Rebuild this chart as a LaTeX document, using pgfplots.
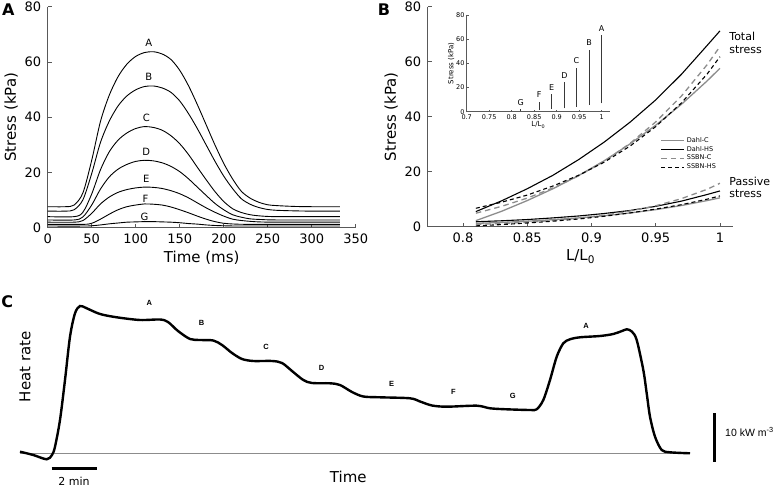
\documentclass[border=0pt]{standalone}
\usepackage{fontspec}
\setmainfont{DejaVu Sans}
\newfontfamily\arialfont{Liberation Sans}
\usepackage{pgfplots}
\pgfplotsset{compat=1.18}
\definecolor{ax}{gray}{0.35}
\definecolor{lg}{gray}{0.55}
\pgfplotsset{
  mystyle/.style={scale only axis, axis lines=left, axis line style={-, draw=ax, line width=0.7bp},
    tick style={draw=ax, line width=0.7bp}, tick align=inside, major tick length=4bp,
    /pgf/number format/assume math mode=true,
    tick label style={font=\fontsize{13bp}{15bp}\selectfont},
    label style={font=\fontsize{15bp}{18bp}\selectfont}, clip=false},
  insetstyle/.style={scale only axis, axis lines=left, axis line style={-, draw=ax, line width=0.5bp},
    tick style={draw=ax, line width=0.5bp}, tick align=inside, major tick length=2bp,
    /pgf/number format/assume math mode=true,
    tick label style={font=\fontsize{6.5bp}{7.5bp}\selectfont, inner sep=1.5bp},
    label style={font=\fontsize{7bp}{8bp}\selectfont}, clip=false},
  acurve/.style={black, line width=0.9bp, smooth, tension=0.5, mark=none},
  ibar/.style={gray!45!black, line width=0.8bp, mark=none}
}
\begin{document}
\begin{tikzpicture}[x=1bp,y=1bp]
\useasboundingbox (0,0) rectangle (775bp,487bp);
% ---------------- Panel C (full-size canvas) ----------------
\begin{axis}[at={(0bp,0bp)}, anchor=south west, scale only axis, width=775bp, height=487bp,
  xmin=0, xmax=775, ymin=0, ymax=487, axis lines=none, clip=false]
\addplot[lg, line width=0.8bp, mark=none] coordinates {(20,33.7) (690,33.7)};
\addplot[black, line width=2.4bp, smooth, tension=0.5, mark=none] coordinates {
(20,35.3)(33.3,32)(46.7,27.7)(52,32)(55,40.3)(60,67)(65,107)(70,150.3)(75,173.7)(80,181)
(86.7,178.7)(100,173)(116.7,169.7)(140,167)(160,167.5)(168,165)(178,156)(190,148)(200,147)
(213.3,146.5)(222,142)(232,134)(242,128)(253.3,126)(272,126)(282,124)(292,116)(303.3,107)
(312,104)(330,103.7)(340,102)(352,95)(363.3,90.5)(380,89.7)(410,88.7)(420,85.5)(432,81.5)
(446.7,80.3)(476.7,81.3)(490,78.7)(506.7,77.7)(530,77)(536.7,77.7)(543.3,87)(550,107)
(556.7,130.3)(563.3,143.7)(570,147.7)(580,149.7)(600,151)(613.3,153)(622,156)(627,157.7)
(632,155.3)(636.7,147)(643.3,117)(646.7,93.7)(650,70.3)(655,50.3)(661.7,37)(670,34.7)(690,33.7)};
\addplot[black, line width=3bp, mark=none] coordinates {(51.7,18.7) (97.3,18.7)};
\addplot[black, line width=2.5bp, mark=none] coordinates {(714.3,25.3) (714.3,74.3)};
\begin{scope}[every node/.style={font=\arialfont\bfseries\fontsize{7.5bp}{8bp}\selectfont, inner sep=0}]
\node at (149.3,183.7) {A};
\node at (201.7,164.3) {B};
\node at (266,140.3) {C};
\node at (321.7,118.7) {D};
\node at (391.7,103) {E};
\node at (453.3,95.3) {F};
\node at (512.7,91.3) {G};
\node at (586,161.3) {A};
\end{scope}
\node[rotate=90, font=\fontsize{15bp}{18bp}\selectfont, inner sep=0] at (25,120.3) {Heat rate};
\node[font=\fontsize{15bp}{18bp}\selectfont, inner sep=0] at (348.3,10.3) {Time};
\node[font=\fontsize{11bp}{13bp}\selectfont, inner sep=0] at (74,5.3) {2 min};
\node[anchor=west, font=\arialfont\fontsize{10.5bp}{12bp}\selectfont, inner sep=0] at (725,55.3) {10 kW m\textsuperscript{-3}};
\begin{scope}[every node/.style={font=\bfseries\fontsize{16bp}{18bp}\selectfont, inner sep=0}]
\node at (8.3,477) {A};
\node at (384,477) {B};
\node at (7.3,185.3) {C};
\end{scope}
\end{axis}
% ---------------- Panel A ----------------
\begin{axis}[mystyle, at={(47.7bp,259.3bp)}, anchor=south west, width=308bp, height=221bp,
  xmin=0, xmax=350, ymin=0, ymax=80, xtick={0,50,...,350}, ytick={0,20,...,80},
  xlabel={Time (ms)}, ylabel={Stress (kPa)},
  xticklabel style={yshift=-3bp}, yticklabel style={xshift=-3bp}]
\addplot[acurve] coordinates {(0,7.6)(20,7.6)(30,8.2)(40,12.6)(50,24.4)(60,38.5)(70,48.0)(80,54.7)(90,59.2)(100,62.0)(110,63.4)(120,63.7)(130,62.9)(140,60.9)(150,57.0)(160,51.4)(170,44.6)(180,37.3)(190,30.0)(200,23.3)(210,17.7)(220,13.2)(230,10.7)(240,9.2)(250,8.3)(260,8.0)(280,7.7)(300,7.6)(332,7.6)};
\addplot[acurve] coordinates {(0,6)(20,6)(30,6.5)(40,10.1)(50,19.6)(60,30.9)(70,38.6)(80,44.1)(90,47.7)(100,49.9)(110,51.1)(120,51.3)(130,50.6)(140,49.0)(150,45.9)(160,41.3)(170,35.9)(180,30.0)(190,24.1)(200,18.7)(210,14.2)(220,10.5)(230,8.5)(240,7.3)(250,6.6)(260,6.3)(280,6.1)(300,6)(332,6)};
\addplot[acurve] coordinates {(0,4)(30,4)(40,5.6)(50,12.2)(60,21.0)(70,27.5)(80,31.7)(90,34.3)(100,35.9)(110,36.6)(120,36.3)(130,35.3)(140,33.3)(150,30.4)(160,26.5)(170,21.9)(180,17.4)(190,13.1)(200,9.5)(210,6.9)(220,5.5)(230,4.7)(240,4.3)(260,4)(332,4)};
\addplot[acurve] coordinates {(0,2.8)(30,2.8)(40,3.9)(50,8.2)(60,14.0)(70,18.4)(80,21.2)(90,22.9)(100,24.0)(110,24.4)(120,24.2)(130,23.5)(140,22.2)(150,20.3)(160,17.7)(170,14.7)(180,11.7)(190,8.8)(200,6.5)(210,4.7)(220,3.8)(230,3.2)(240,3.0)(260,2.8)(332,2.8)};
\addplot[acurve] coordinates {(0,2)(30,2)(40,2.6)(50,5.2)(60,8.6)(70,11.1)(80,12.8)(90,13.8)(100,14.4)(110,14.7)(120,14.6)(130,14.2)(140,13.4)(150,12.3)(160,10.8)(170,9.0)(180,7.2)(190,5.6)(200,4.2)(210,3.1)(220,2.6)(230,2.3)(240,2.1)(260,2)(332,2)};
\addplot[acurve] coordinates {(0,1.2)(40,1.2)(50,1.6)(60,3.1)(70,4.9)(80,6.5)(90,7.6)(100,8.2)(110,8.6)(120,8.5)(130,8.2)(140,7.5)(150,6.5)(160,5.4)(170,4.2)(180,3.1)(190,2.2)(200,1.6)(210,1.35)(220,1.24)(240,1.2)(332,1.2)};
\addplot[acurve] coordinates {(0,0.6)(40,0.6)(50,0.7)(60,1.0)(70,1.4)(80,1.7)(90,2.0)(100,2.1)(110,2.2)(120,2.2)(130,2.1)(140,2.0)(150,1.8)(160,1.5)(170,1.3)(180,1.0)(190,0.8)(200,0.7)(210,0.63)(240,0.6)(332,0.6)};
\begin{scope}[every node/.style={font=\fontsize{10bp}{12bp}\selectfont, inner sep=0}]
\node at (115,66.9) {A};
\node at (115,54.5) {B};
\node at (112,39.6) {C};
\node at (112,27.5) {D};
\node at (112,17.6) {E};
\node at (111,10.6) {F};
\node at (110,4.0) {G};
\end{scope}
\end{axis}
% ---------------- Panel B ----------------
\begin{axis}[mystyle, at={(427.7bp,260.3bp)}, anchor=south west, width=305.6bp, height=220bp,
  xmin=0.7725, xmax=1.0104, ymin=0, ymax=80, xtick={0.8,0.85,...,1.01}, ytick={0,20,...,80},
  xticklabels={0.8,0.85,0.9,0.95,1},
  xlabel={L/L\textsubscript{0}}, ylabel={Stress (kPa)},
  xticklabel style={yshift=-3bp}, yticklabel style={xshift=-3bp},
  legend style={at={(axis cs:0.9533,33.5)}, anchor=north west, draw=none, fill=none,
    font=\fontsize{6.5bp}{7bp}\selectfont, row sep=-1.5bp, inner sep=0.5bp},
  legend cell align=left,
  legend image code/.code={\draw[#1] (0bp,0bp) -- (23bp,0bp);}]
\addplot[lg, line width=1.3bp, mark=none] coordinates {(0.81,2.2)(0.83,5.6)(0.85,9.5)(0.87,13.8)(0.89,18.6)(0.91,24.0)(0.93,30.1)(0.95,36.9)(0.97,44.5)(0.99,53.0)(1.0,57.6)};
\addlegendentry{Dahl-C}
\addplot[black, line width=1.1bp, mark=none] coordinates {(0.81,5.5)(0.83,9.4)(0.85,13.8)(0.87,18.7)(0.89,24.4)(0.91,30.8)(0.93,38.0)(0.95,46.1)(0.97,55.4)(0.99,65.9)(1.0,71.2)};
\addlegendentry{Dahl-HS}
\addplot[lg, line width=1.3bp, dash pattern=on 5.5bp off 4bp, mark=none] coordinates {(0.81,4.9)(0.83,7.4)(0.85,10.4)(0.87,14.1)(0.89,18.5)(0.91,23.8)(0.93,30.3)(0.95,38.1)(0.97,47.5)(0.99,58.9)(1.0,65.5)};
\addlegendentry{SSBN-C}
\addplot[black, line width=1.1bp, dash pattern=on 4bp off 3bp, mark=none] coordinates {(0.81,6.7)(0.83,8.9)(0.85,11.5)(0.87,14.8)(0.89,18.7)(0.91,23.5)(0.93,29.3)(0.95,36.4)(0.97,45.0)(0.99,55.5)(1.0,61.8)};
\addlegendentry{SSBN-HS}
\addplot[lg, line width=1.3bp, mark=none, forget plot] coordinates {(0.81,1.2)(0.83,1.56)(0.85,2.0)(0.87,2.55)(0.89,3.2)(0.91,4.0)(0.93,5.0)(0.95,6.2)(0.97,7.7)(0.99,9.5)(1.0,10.5)};
\addplot[black, line width=1.1bp, mark=none, forget plot] coordinates {(0.81,1.8)(0.83,2.15)(0.85,2.6)(0.87,3.2)(0.89,3.9)(0.91,4.8)(0.93,5.9)(0.95,7.4)(0.97,9.3)(0.99,11.7)(1.0,13.0)};
\addplot[lg, line width=1.3bp, dash pattern=on 5.5bp off 4bp, mark=none, forget plot] coordinates {(0.81,0.8)(0.83,1.15)(0.85,1.6)(0.87,2.25)(0.89,3.1)(0.91,4.2)(0.93,5.7)(0.95,7.6)(0.97,10.2)(0.99,13.6)(1.0,15.8)};
\addplot[black, line width=1.1bp, dash pattern=on 4bp off 3bp, mark=none, forget plot] coordinates {(0.81,0.3)(0.83,0.77)(0.85,1.34)(0.87,2.0)(0.89,2.8)(0.91,3.8)(0.93,5.0)(0.95,6.4)(0.97,8.0)(0.99,10.0)(1.0,11.2)};
\begin{scope}[every node/.style={font=\fontsize{11bp}{13bp}\selectfont, inner sep=0, anchor=west}]
\node at (axis cs:1.0072,69.1) {Total};
\node at (axis cs:1.0072,64.3) {stress};
\node at (axis cs:1.0072,16.6) {Passive};
\node at (axis cs:1.0072,12.1) {stress};
\end{scope}
\end{axis}
% ---------------- Inset ----------------
\begin{axis}[insetstyle, at={(466.7bp,375.3bp)}, anchor=south west, width=143.1bp, height=96.7bp,
  xmin=0.7, xmax=1.018, ymin=0, ymax=80, xtick={0.7,0.75,...,1.01}, ytick={0,20,...,80},
  xticklabels={0.7,0.75,0.8,0.85,0.9,0.95,1},
  xlabel={L/L\textsubscript{0}}, ylabel={Stress (kPa)},
  xticklabel style={yshift=-1.5bp}, yticklabel style={xshift=-0.5bp},
  xlabel style={yshift=3bp}, ylabel style={yshift=-3bp}]
\addplot[ibar] coordinates {(1.0,6.9)(1.0,63.4)};
\addplot[ibar] coordinates {(0.972,5.5)(0.972,51)};
\addplot[ibar] coordinates {(0.944,4.1)(0.944,35.9)};
\addplot[ibar] coordinates {(0.917,2.8)(0.917,24.3)};
\addplot[ibar] coordinates {(0.889,2.2)(0.889,14.6)};
\addplot[ibar] coordinates {(0.861,1.4)(0.861,8.3)};
\addplot[ibar] coordinates {(0.82,0.6)(0.82,2.2)};
\begin{scope}[every node/.style={font=\fontsize{8bp}{9bp}\selectfont, inner sep=0}]
\node at (1.0,69) {A};
\node at (0.972,57.4) {B};
\node at (0.944,42.2) {C};
\node at (0.917,29.8) {D};
\node at (0.889,19.9) {E};
\node at (0.861,13.8) {F};
\node at (0.82,7.5) {G};
\end{scope}
\end{axis}
\end{tikzpicture}
\end{document}
